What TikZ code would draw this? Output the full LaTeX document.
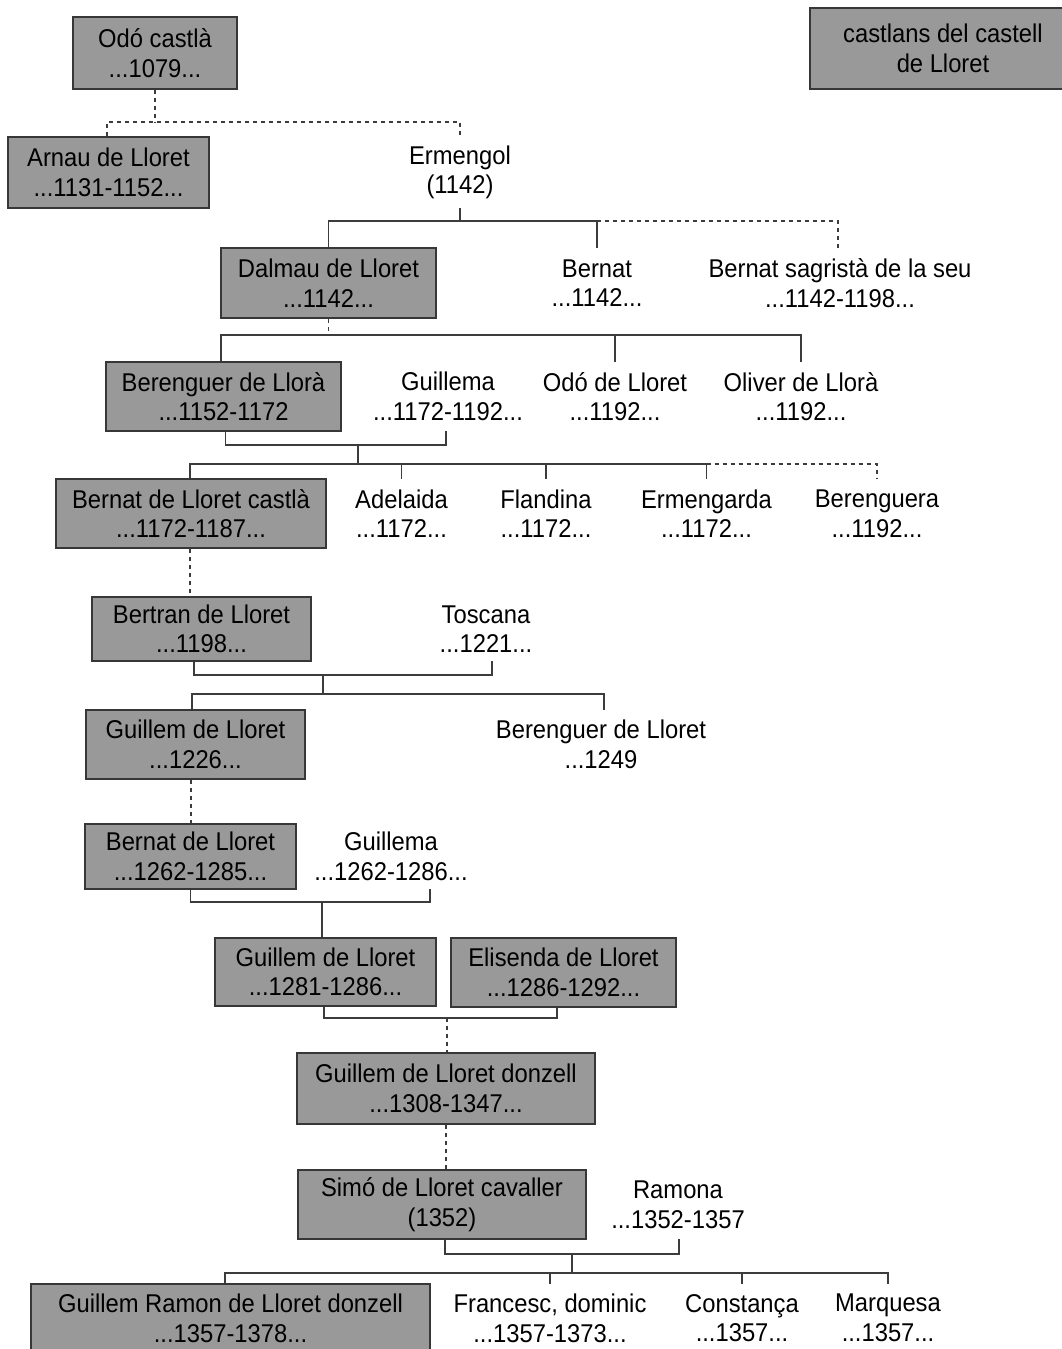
\documentclass[tikz,border=0pt]{standalone}
\usepackage{fontspec}
\newfontfamily\fnt{Liberation Sans}[FakeStretch=0.925]
\definecolor{boxfill}{RGB}{153,153,153}
\definecolor{boxline}{RGB}{55,55,55}
\definecolor{linec}{RGB}{60,60,60}
\tikzset{
  person/.style={align=center, inner sep=0pt, text=black, font={\fnt\fontsize{25.7}{29.6}\selectfont}},
  boxed/.style={person, draw=boxline, fill=boxfill, line width=1.5pt},
  link/.style={draw=linec, line width=1.4pt},
  dlink/.style={link, dash pattern=on 4pt off 4pt},
}
\begin{document}
\begin{tikzpicture}[x=1pt, y=-1pt]
\useasboundingbox (0,0) rectangle (1062,1349);
\fill[white] (0,0) rectangle (1062,1349);
\clip (0,0) rectangle (1062,1349);

% row 0
\node[boxed, minimum width=164, minimum height=72] (odo) at (155,53) {Odó castlà\\...1079...};
\node[boxed, minimum width=266, minimum height=81] (title) at (943,48.5) {castlans del castell\\de Lloret};
% row 1
\node[boxed, minimum width=201, minimum height=71] (arnau) at (108.5,172.5) {Arnau de Lloret\\...1131-1152...};
\node[person, minimum width=100, minimum height=71] (ermengol) at (460,172.5) {Ermengol\\(1142)};
% row 2
\node[boxed, minimum width=215, minimum height=70] (dalmau) at (328.5,283) {Dalmau de Lloret\\...1142...};
\node[person, minimum height=70] (bernat1) at (597,283) {Bernat\\...1142...};
\node[person, minimum height=70] (bernatsag) at (840,283) {Bernat sagristà de la seu\\...1142-1198...};
% row 3
\node[boxed, minimum width=235, minimum height=69] (berenguer) at (223.5,396.5) {Berenguer de Llorà\\...1152-1172};
\node[person, minimum height=69] (guillema1) at (448,396.5) {Guillema\\...1172-1192...};
\node[person, minimum height=69] (odolloret) at (615,396.5) {Odó de Lloret\\...1192...};
\node[person, minimum height=69] (oliver) at (801,396.5) {Oliver de Llorà\\...1192...};
% row 4
\node[boxed, minimum width=270, minimum height=69] (bernatc) at (191,513.5) {Bernat de Lloret castlà\\...1172-1187...};
\node[person, minimum height=69] (adelaida) at (401.5,513.5) {Adelaida\\...1172...};
\node[person, minimum height=69] (flandina) at (546,513.5) {Flandina\\...1172...};
\node[person, minimum height=69] (ermengarda) at (706.5,513.5) {Ermengarda\\...1172...};
\node[person, minimum height=69] (berenguera) at (877,513.5) {Berenguera\\...1192...};
% row 5
\node[boxed, minimum width=219, minimum height=64] (bertran) at (201.5,629) {Bertran de Lloret\\...1198...};
\node[person, minimum height=64] (toscana) at (486,629) {Toscana\\...1221...};
% row 6
\node[boxed, minimum width=219, minimum height=69] (guillem1) at (195.5,744.5) {Guillem de Lloret\\...1226...};
\node[person, minimum height=69] (berenguerl) at (601,744.5) {Berenguer de Lloret\\...1249};
% row 7
\node[boxed, minimum width=211, minimum height=65] (bernatl) at (190.5,856.5) {Bernat de Lloret\\...1262-1285...};
\node[person, minimum height=65] (guillema2) at (391,856.5) {Guillema\\...1262-1286...};
% row 8
\node[boxed, minimum width=221, minimum height=68] (guillem2) at (325.5,972) {Guillem de Lloret\\...1281-1286...};
\node[boxed, minimum width=225, minimum height=69] (elisenda) at (563.5,972.5) {Elisenda de Lloret\\...1286-1292...};
% row 9
\node[boxed, minimum width=298, minimum height=71] (donzell) at (446,1088.5) {Guillem de Lloret donzell\\...1308-1347...};
% row 10
\node[boxed, minimum width=288, minimum height=69] (simo) at (442,1204.5) {Simó de Lloret cavaller\\(1352)};
\node[person, minimum height=69] (ramona) at (678,1204.5) {Ramona\\...1352-1357};
% row 11
\node[boxed, minimum width=399, minimum height=68] (gramon) at (230.5,1318) {Guillem Ramon de Lloret donzell\\...1357-1378...};
\node[person, minimum height=68] (francesc) at (550,1318) {Francesc, dominic\\...1357-1373...};
\node[person, minimum height=68] (constanca) at (742,1318) {Constança\\...1357...};
\node[person, minimum height=68] (marquesa) at (888,1318) {Marquesa\\...1357...};

% connectors
\coordinate (b0) at (155,122);
\draw[dlink] (odo.south) -- (b0);
\draw[dlink] ([xshift=-1.5pt]arnau.north) |- (b0) -| (ermengol.north);

\coordinate (e1) at (460,221);
\draw[link] (ermengol.south) -- (e1);
\draw[link] (dalmau.north) |- (e1) -| (bernat1.north);
\draw[dlink] (bernat1.north |- e1) -| ([xshift=-2pt]bernatsag.north);

\coordinate (d1) at (328.5,335);
\draw[dlink] (dalmau.south) -- (d1);
\draw[link] ([xshift=-2.5pt]berenguer.north) |- (d1) -| (oliver.north);
\draw[link] (odolloret.north) -- (odolloret.north |- d1);

\coordinate (m1) at (358,445);
\coordinate (c1) at (358,464);
\draw[link] ([xshift=2pt]berenguer.south) |- (m1) -| ([xshift=-2pt]guillema1.south);
\draw[link] (m1) -- (c1);
\draw[link] ([xshift=-1pt]bernatc.north) |- (c1) -| (ermengarda.north);
\draw[link] (adelaida.north) -- (adelaida.north |- c1);
\draw[link] (flandina.north) -- (flandina.north |- c1);
\draw[dlink] (ermengarda.north |- c1) -| (berenguera.north);

\draw[dlink] ([xshift=-1pt]bernatc.south) -- ([xshift=-1pt]bernatc.south |- bertran.north);

\coordinate (m2) at (323,675);
\coordinate (c2) at (323,694);
\draw[link] ([xshift=-7.5pt]bertran.south) |- (m2) -| ([xshift=6pt]toscana.south);
\draw[link] (m2) -- (c2);
\draw[link] ([xshift=-3.5pt]guillem1.north) |- (c2) -| ([xshift=3pt]berenguerl.north);

\draw[dlink] ([xshift=-4.5pt]guillem1.south) -- ([xshift=-4.5pt]guillem1.south |- bernatl.north);

\coordinate (m3) at (322,902);
\draw[link] (bernatl.south) |- (m3) -| ([xshift=39pt]guillema2.south);
\draw[link] (m3) -- (m3 |- guillem2.north);

\coordinate (m4) at (447,1018);
\draw[link] ([xshift=-1.5pt]guillem2.south) |- (m4) -| ([xshift=-6.5pt]elisenda.south);
\draw[dlink] (m4) -- (m4 |- donzell.north);

\draw[dlink] (donzell.south) -- (donzell.south |- simo.north);

\coordinate (m5) at (572,1254);
\coordinate (c5) at (572,1273);
\draw[link] ([xshift=3pt]simo.south) |- (m5) -| ([xshift=1pt]ramona.south);
\draw[link] (m5) -- (c5);
\draw[link] ([xshift=-5.5pt]gramon.north) |- (c5) -| (marquesa.north);
\draw[link] (francesc.north) -- (francesc.north |- c5);
\draw[link] (constanca.north) -- (constanca.north |- c5);
\end{tikzpicture}
\end{document}
